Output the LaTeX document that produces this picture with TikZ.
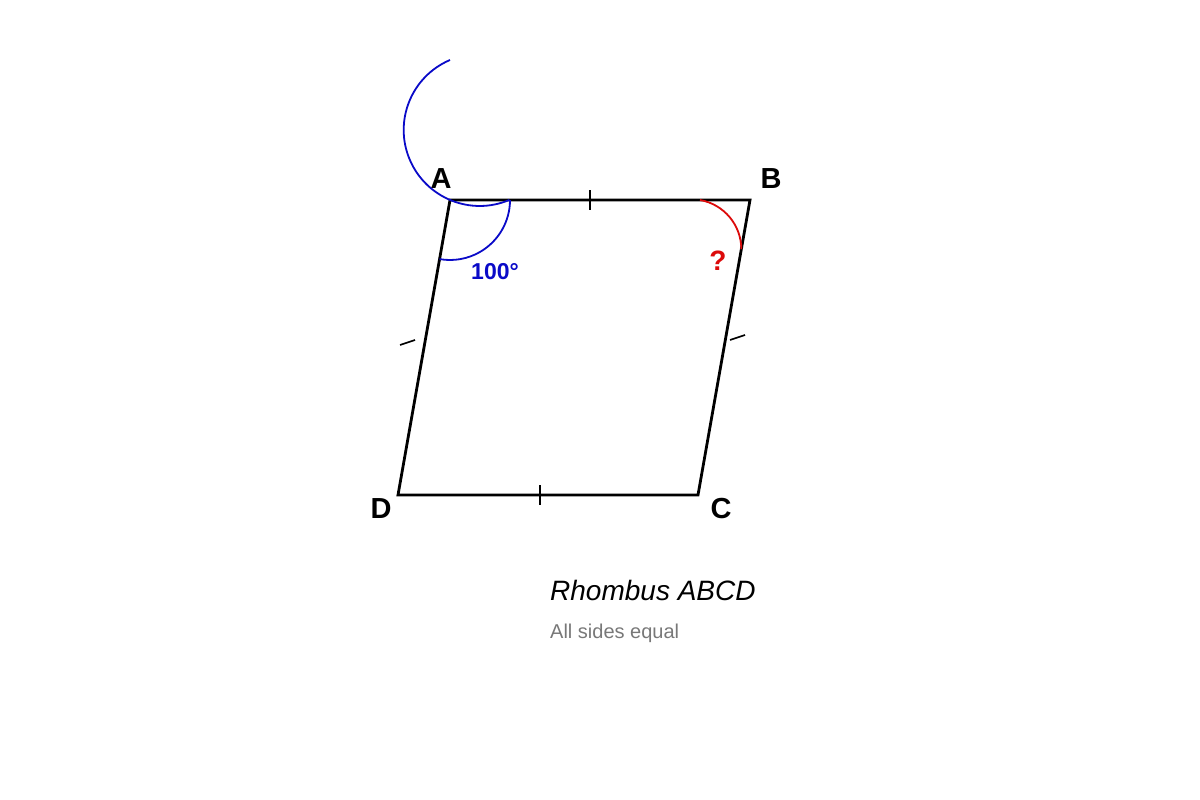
\documentclass[tikz,border=0pt]{standalone}
\usepackage{fontspec}
\setmainfont{Liberation Sans}
\usepackage{tikz}
\definecolor{angblue}{RGB}{10,10,200}
\definecolor{angred}{RGB}{220,10,10}
\definecolor{notegray}{RGB}{120,120,120}
\begin{document}
\begin{tikzpicture}[x=1pt,y=-1pt]
\useasboundingbox (0,0) rectangle (1200,800);
\coordinate (A) at (450,200);
\coordinate (B) at (750,200);
\coordinate (C) at (698,495);
\coordinate (D) at (398,495);
\draw[line width=2.8pt,line join=miter] (A)--(B)--(C)--(D)--cycle;
\draw[line width=1.6pt] (590,190)--(590,210);
\draw[line width=1.6pt] (540,485)--(540,505);
\draw[line width=1.6pt] (400,345)--(415,340);
\draw[line width=1.6pt] (730,340)--(745,335);
\draw[angblue,line width=1.8pt] (450,60) arc[start angle=-113,end angle=-293,radius=76];
\draw[angblue,line width=1.8pt] (510,200) arc[start angle=0,end angle=100,radius=60];
\draw[angred,line width=1.8pt] (700,200) arc[start angle=-80,end angle=0,radius=50];
\node[font=\fontsize{29}{32}\selectfont\bfseries] (labA) at (441,179) {A};
\node[font=\fontsize{29}{32}\selectfont\bfseries] (labB) at (771,179) {B};
\node[font=\fontsize{29}{32}\selectfont\bfseries] (labC) at (721,509) {C};
\node[font=\fontsize{29}{32}\selectfont\bfseries] (labD) at (381,509) {D};
\node[angblue,font=\fontsize{23}{26}\selectfont\bfseries] (ang) at (495,272) {100°};
\node[angred,font=\fontsize{28}{30}\selectfont\bfseries] (ask) at (718,261) {?};
\node[anchor=west,inner sep=0pt,font=\fontsize{28}{32}\selectfont\itshape] (title) at (550,590) {Rhombus ABCD};
\node[anchor=west,inner sep=0pt,notegray,font=\fontsize{20}{24}\selectfont] (note) at (550,633) {All sides equal};
\end{tikzpicture}
\end{document}
